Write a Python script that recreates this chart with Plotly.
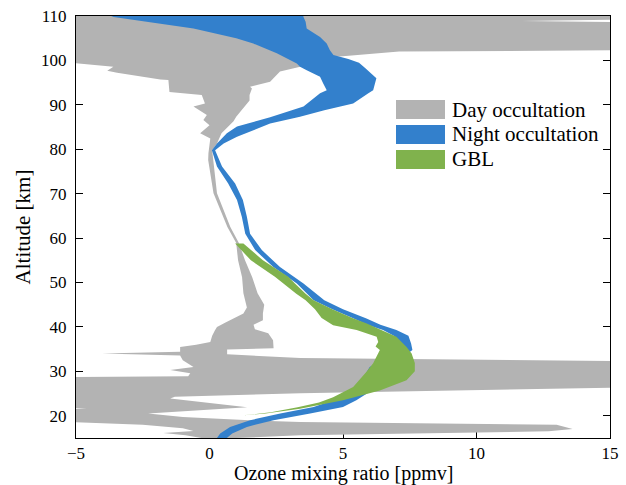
import plotly.graph_objects as go

# ---------------- data ----------------
# Day occultation envelope: left and right edges (altitude [km], ozone [ppmv])
day_left_alt = [14.5, 15.0, 15.6, 16.1, 16.6, 17.2, 18.0, 18.8, 21.3, 21.6, 21.9, 28.7, 28.9, 29.6,
                30.3, 31.0, 32.5, 33.6, 34.0, 34.4, 35.5, 36.0, 36.6, 38.0, 39.2, 40.0, 41.0, 43.0,
                44.4, 47.6, 51.2, 55.0, 58.9, 62.5, 70.1, 77.6, 79.1, 82.4, 83.6, 85.4, 86.6, 87.7,
                89.6, 90.3, 92.2, 92.9, 95.6, 95.7, 97.2, 97.7, 98.6, 99.9, 110.5]
day_left_x = [-0.5, -0.3, -0.9, -1.73, -0.6, -1.0, -2.5, -6.0, -6.0, -4.6, -6.0, -6.0, -0.8, -0.72,
              -1.47, -0.6, -1.0, -1.1, -4.02, -1.1, -1.1, -0.5, 0.03, 0.1, 0.2, 0.28, 0.6, 1.27,
              1.4, 1.27, 1.22, 1.07, 1.0, 0.67, 0.15, -0.05, -0.04, 0.03, -0.35, 0.0, -0.23, -0.1,
              -0.6, -0.17, -0.29, -1.5, -1.54, -1.84, -3.46, -3.83, -3.6, -6.0, -6.0]
day_right_alt = [14.5, 15.0, 15.6, 16.5, 17.0, 18.0, 18.6, 19.0, 19.7, 20.5, 21.9, 23.9, 24.3, 25.1,
                 26.4, 32.3, 33.0, 33.85, 34.9, 35.2, 37.0, 38.6, 39.5, 40.5, 41.5, 43.0, 45.0, 47.6,
                 51.2, 55.0, 58.9, 62.5, 70.1, 77.6, 79.8, 81.3, 83.6, 86.3, 87.3, 91.0, 92.2, 93.7,
                 94.1, 95.2, 97.5, 98.6, 100.8, 102.0, 102.3, 108.6, 108.9, 109.2, 110.5]
day_right_x = [0.8, 1.0, 3.4, 12.7, 13.6, 13.0, 3.4, 1.5, -1.0, -2.3, 1.41, -1.47, -1.3, 3.4,
               16.0, 16.0, 3.4, 0.66, 0.66, 2.4, 2.38, 2.2, 1.7, 1.65, 2.0, 2.0, 2.05, 1.8,
               1.6, 1.33, 1.1, 0.78, 0.28, 0.14, 0.1, 0.28, 0.45, 0.9, 1.0, 1.5, 1.5, 1.59,
               1.52, 2.27, 2.64, 3.4, 4.77, 7.1, 16.0, 16.0, 11.7, 16.0, 16.0]

# Night occultation envelope: lower branch (15-80 km) and upper branch (81-110 km)
night_alt = [14.5, 15.0, 16.0, 17.5, 19.0, 20.5, 22.0, 23.5, 25.4, 28.0, 31.0, 33.0, 34.8, 36.3,
             38.0, 39.3, 40.5, 41.9, 44.0, 46.0, 49.8, 53.5, 57.3, 61.0, 64.8, 68.6, 72.3, 76.1,
             79.8]
night_left_x = [0.2, 0.28, 0.4, 0.77, 1.52, 2.65, 3.9, 4.63, 5.26, 5.7, 6.0, 6.6, 7.1, 7.1,
                6.9, 6.5, 5.9, 5.4, 4.6, 3.9, 3.27, 2.39, 1.71, 1.34, 1.21, 1.03, 0.7, 0.28,
                0.09]
night_right_x = [0.55, 0.65, 0.85, 1.4, 2.4, 3.77, 5.0, 5.5, 6.0, 6.1, 6.4, 7.2, 7.6, 7.55,
                 7.45, 7.0, 6.4, 5.88, 5.0, 4.3, 3.52, 2.64, 1.96, 1.52, 1.4, 1.25, 0.96, 0.47,
                 0.21]
night_up_left_alt = [81.3, 83.6, 85.1, 87.2, 89.6, 92.6, 93.3, 94.8, 96.3, 97.8, 98.6, 99.3, 101.6,
                     103.8, 105.0, 107.2, 109.8, 110.5]
night_up_left_x = [0.28, 0.65, 1.03, 2.27, 3.52, 4.14, 4.39, 4.26, 4.14, 3.64, 3.39, 3.27, 2.52,
                   1.64, 1.0, -0.6, -3.59, -3.9]
night_up_right_alt = [81.3, 82.8, 85.8, 87.3, 88.8, 90.3, 92.6, 93.3, 96.0, 98.2, 99.5, 100.3, 101.2,
                      102.3, 103.8, 105.3, 107.2, 108.7, 109.8, 110.5]
night_up_right_x = [0.53, 1.03, 2.27, 3.39, 4.3, 5.38, 5.95, 6.13, 6.25, 5.85, 5.6, 5.2, 4.64,
                    4.51, 4.39, 4.14, 3.64, 3.6, 3.52, 3.5]

# GBL envelope
gbl_left_alt = [20.1, 20.8, 21.9, 23.0, 24.2, 26.5, 29.9, 31.8, 34.8, 35.6, 36.6, 37.8, 39.3, 40.4,
                42.0, 44.0, 46.0, 47.5, 51.3, 55.0, 58.8]
gbl_left_x = [1.28, 2.3, 3.3, 4.1, 4.63, 5.38, 5.88, 6.13, 6.38, 6.22, 6.32, 6.26, 5.51, 4.63,
              4.2, 3.95, 3.6, 3.25, 2.45, 1.55, 0.96]
gbl_right_alt = [20.1, 20.5, 21.6, 23.5, 25.7, 28.0, 30.0, 31.9, 34.0, 35.5, 37.8, 40.8, 42.0, 44.0,
                 46.0, 47.5, 49.8, 51.3, 55.0, 58.8]
gbl_right_x = [1.28, 2.1, 3.39, 5.0, 6.38, 7.38, 7.69, 7.69, 7.57, 7.38, 7.0, 5.89, 5.35, 4.6,
               3.9, 3.6, 3.2, 2.95, 2.0, 1.27]

x_ticks = [-5, 0, 5, 10, 15]
y_ticks = [20, 30, 40, 50, 60, 70, 80, 90, 100, 110]

# ---------------- style ----------------
GRAY = "#b3b3b3"
BLUE = "#3380cc"
GREEN = "#80b24d"
FONT = "Liberation Serif"


def band(xl, yl, xr, yr):
    return list(xl) + list(xr)[::-1], list(yl) + list(yr)[::-1]


fig = go.Figure()

dx, dy = band(day_left_x, day_left_alt, day_right_x, day_right_alt)
fig.add_trace(go.Scatter(x=dx, y=dy, fill="toself", fillcolor=GRAY, mode="none",
                         name="Day occultation", showlegend=False, hoverinfo="skip"))

nl_x = night_left_x + night_up_left_x
nl_y = night_alt + night_up_left_alt
nr_x = night_right_x + night_up_right_x
nr_y = night_alt + night_up_right_alt
nx, ny = band(nl_x, nl_y, nr_x, nr_y)
fig.add_trace(go.Scatter(x=nx, y=ny, fill="toself", fillcolor=BLUE, mode="none",
                         name="Night occultation", showlegend=False, hoverinfo="skip"))

gx, gy = band(gbl_left_x, gbl_left_alt, gbl_right_x, gbl_right_alt)
fig.add_trace(go.Scatter(x=gx, y=gy, fill="toself", fillcolor=GREEN, mode="none",
                         name="GBL", showlegend=False, hoverinfo="skip"))

# manual legend (large swatches as in the reference)
legend_items = [("Day occultation", GRAY), ("Night occultation", BLUE), ("GBL", GREEN)]
W, H = 534, 422
for i, (label, col) in enumerate(legend_items):
    top = 100 + i * 25 - 16
    fig.add_shape(type="rect", xref="paper", yref="paper",
                  x0=(396 - 76) / W, x1=(445 - 76) / W,
                  y0=1 - (top + 19) / H, y1=1 - top / H,
                  fillcolor=col, line=dict(width=0), layer="above")
    fig.add_annotation(x=(450 - 76) / W, y=1 - (top + 9.5) / H, xref="paper", yref="paper",
                       text=label, showarrow=False, xanchor="left", yanchor="middle",
                       font=dict(family=FONT, size=21, color="black"))

# x-axis title placed explicitly below the tick labels
fig.add_annotation(x=0.5, y=(438 - 487) / H, xref="paper", yref="paper",
                   text="Ozone mixing ratio [ppmv]", showarrow=False,
                   xanchor="center", yanchor="bottom",
                   font=dict(family=FONT, size=20, color="black"))

axis_common = dict(showline=True, linecolor="black", linewidth=1, mirror="ticks",
                   ticks="inside", ticklen=7, tickwidth=1, tickcolor="black",
                   showgrid=False, zeroline=False, layer="below traces", automargin=False,
                   tickfont=dict(family=FONT, size=17, color="black"))

fig.update_layout(
    width=626, height=485,
    margin=dict(l=76, r=16, t=16, b=47, autoexpand=False),
    paper_bgcolor="white", plot_bgcolor="white",
    xaxis=dict(range=[-5, 15], tickvals=x_ticks, ticklabelstandoff=0, **axis_common),
    yaxis=dict(range=[15, 110], tickvals=y_ticks, ticklabelstandoff=5,
               title=dict(text="Altitude [km]", standoff=4,
                          font=dict(family=FONT, size=21, color="black")),
               **axis_common),
    showlegend=False,
)

fig.write_html("out.html")
